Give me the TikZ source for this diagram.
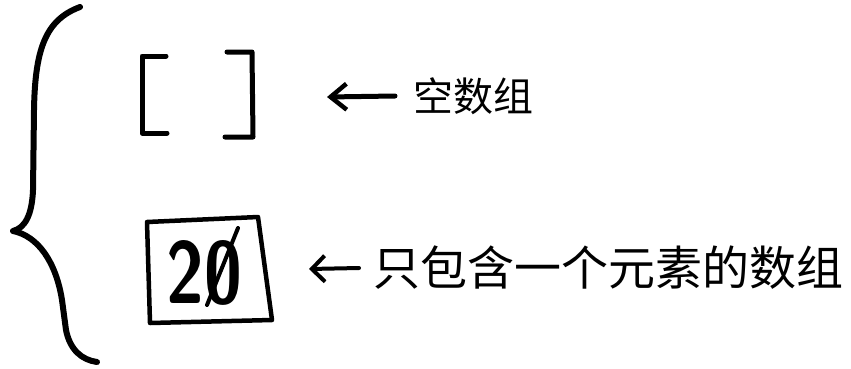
\documentclass[tikz,border=0pt]{standalone}
\usepackage{fontspec}
\newfontfamily\cjk{Noto Sans CJK SC}
\usetikzlibrary{arrows.meta}
\tikzset{
  ink/.style={line width=5pt, line cap=round, line join=round},
  pointer/.style={ink, -{Straight Barb[length=16pt,width=26pt,line width=4.5pt]}},
  label/.style={anchor=west, inner sep=0pt, font=\cjk\fontsize{40}{44}\selectfont},
}
\begin{document}
\begin{tikzpicture}[x=1pt,y=-1pt]
\useasboundingbox (0,0) rectangle (851,368);
% brace
\draw[ink, line width=6pt] (80,7) .. controls (45,20) and (35,50) .. (34,110) -- (33,190)
  .. controls (32,215) and (25,228) .. (13,231)
  .. controls (38,236) and (56,262) .. (62,300) -- (66,330)
  .. controls (70,350) and (82,360) .. (97,362);
% empty array brackets
\draw[ink] (166,56) -- (142,56) -- (142,133) -- (167,133);
\draw[ink] (227,52) -- (252,52) -- (253,137) -- (225,137);
\coordinate (empty) at (197,95);
% box with 20
\draw[ink, line width=4.5pt] (147,222) -- (258,217) -- (272,320) -- (150,323) -- cycle;
\node[inner sep=0pt] (num) at (204,273) {\scalebox{0.78}[1]{\fontsize{88}{92}\selectfont\sffamily\bfseries 20}};
\draw[line width=4pt, line cap=round] (238,228) -- (207,305);
% labels
\node[label] (lab1) at (413,96) {空数组};
\node[label, font=\cjk\fontsize{47}{51}\selectfont] (lab2) at (373,268) {只包含一个元素的数组};
\coordinate (tip1) at (327,97);
\coordinate (tip2) at (309,269);
\draw[pointer] ([xshift=-18pt]lab1.west) -- (tip1);
\draw[pointer, line width=4pt, -{Straight Barb[length=13pt,width=26pt,line width=4pt]}] ([xshift=-14pt]lab2.west) -- (tip2);
\end{tikzpicture}
\end{document}
